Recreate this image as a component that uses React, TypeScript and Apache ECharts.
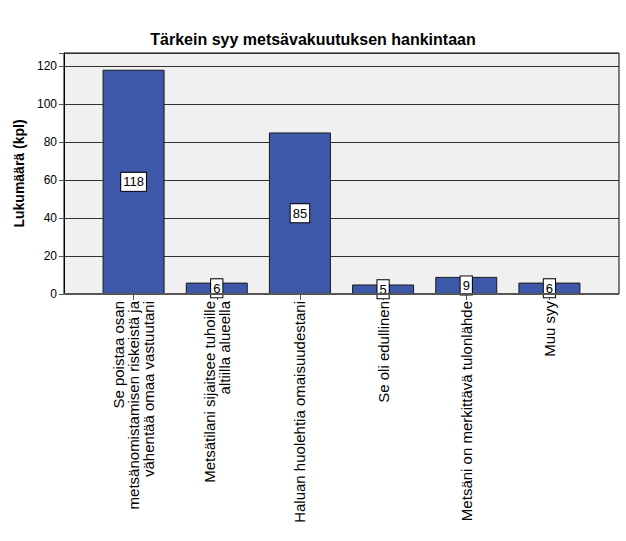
import { useEffect, useRef } from 'react';
import * as echarts from 'echarts';

const title = 'Tärkein syy metsävakuutuksen hankintaan';
const yName = 'Lukumäärä (kpl)';
const categories = [
    'Se poistaa osan\nmetsänomistamisen riskeistä ja\nvähentää omaa vastuutani',
    'Metsätilani sijaitsee tuhoille\naltiilla alueella',
    'Haluan huolehtia omaisuudestani',
    'Se oli edullinen',
    'Metsäni on merkittävä tulonlähde',
    'Muu syy'
];
const counts = [118, 6, 85, 5, 9, 6];
const yTicks = [0, 20, 40, 60, 80, 100, 120];

const FONT = '"Liberation Sans", Arial, sans-serif';
const Y_MAX = 126.8;

export default function App() {
    const ref = useRef<HTMLDivElement | null>(null);

    useEffect(() => {
        document.body.style.margin = '0';
        if (!ref.current) return;
        const chart = echarts.init(ref.current, null, { renderer: 'svg' });
        chart.setOption({
            animation: false,
            backgroundColor: '#ffffff',
            textStyle: { fontFamily: FONT },
            title: {
                text: title,
                left: 'center',
                top: 26,
                textStyle: { fontSize: 16, fontWeight: 'bold', color: '#000', fontFamily: FONT }
            },
            grid: [
                { left: 64, right: 7, top: 53, bottom: 247, show: true, backgroundColor: '#f0f0f0', borderColor: '#000', borderWidth: 1 },
                { left: 92, right: 35, top: 53, bottom: 247 }
            ],
            xAxis: [
                { gridIndex: 0, type: 'value', show: false, min: 0, max: 1 },
                {
                    gridIndex: 1,
                    type: 'category',
                    data: categories,
                    axisLine: { show: false },
                    axisTick: { show: true, alignWithLabel: true, length: 6, lineStyle: { color: '#555' } },
                    axisLabel: {
                        rotate: 90,
                        interval: 0,
                        margin: 7,
                        fontSize: 15,
                        lineHeight: 15,
                        color: '#000',
                        fontFamily: FONT
                    }
                }
            ],
            yAxis: [
                {
                    gridIndex: 0,
                    type: 'value',
                    min: 0,
                    max: Y_MAX,
                    interval: 20,
                    name: yName,
                    nameLocation: 'middle',
                    nameGap: 36,
                    nameTextStyle: { fontSize: 14, fontWeight: 'bold', color: '#000', fontFamily: FONT },
                    axisLine: { show: true, lineStyle: { color: '#000' } },
                    axisTick: { show: true, length: 5, lineStyle: { color: '#555' } },
                    axisLabel: {
                        fontSize: 12,
                        color: '#000',
                        margin: 7,
                        fontFamily: FONT,
                        formatter: (v: number) => (yTicks.includes(v) ? String(v) : '')
                    },
                    splitLine: { show: true, lineStyle: { color: '#333', width: 1 } }
                },
                { gridIndex: 1, type: 'value', min: 0, max: Y_MAX, show: false, splitLine: { show: false } }
            ],
            series: [
                {
                    type: 'bar',
                    xAxisIndex: 1,
                    yAxisIndex: 1,
                    data: counts,
                    barWidth: 62,
                    itemStyle: { color: '#3d58a8', borderColor: '#1a1a1a', borderWidth: 1 },
                    label: {
                        show: true,
                        position: 'inside',
                        color: '#000',
                        fontSize: 13,
                        fontFamily: FONT,
                        backgroundColor: '#fff',
                        borderColor: '#000',
                        borderWidth: 1,
                        padding: [3, 2, 2, 2]
                    }
                },
                {
                    type: 'line',
                    xAxisIndex: 0,
                    yAxisIndex: 0,
                    data: [],
                    markLine: {
                        silent: true,
                        symbol: 'none',
                        label: { show: false },
                        lineStyle: { color: '#555', width: 2, type: 'solid' },
                        data: [{ yAxis: 0 }]
                    }
                }
            ]
        });
        return () => chart.dispose();
    }, []);

    return <div ref={ref} style={{ width: 626, height: 541 }} />;
}
